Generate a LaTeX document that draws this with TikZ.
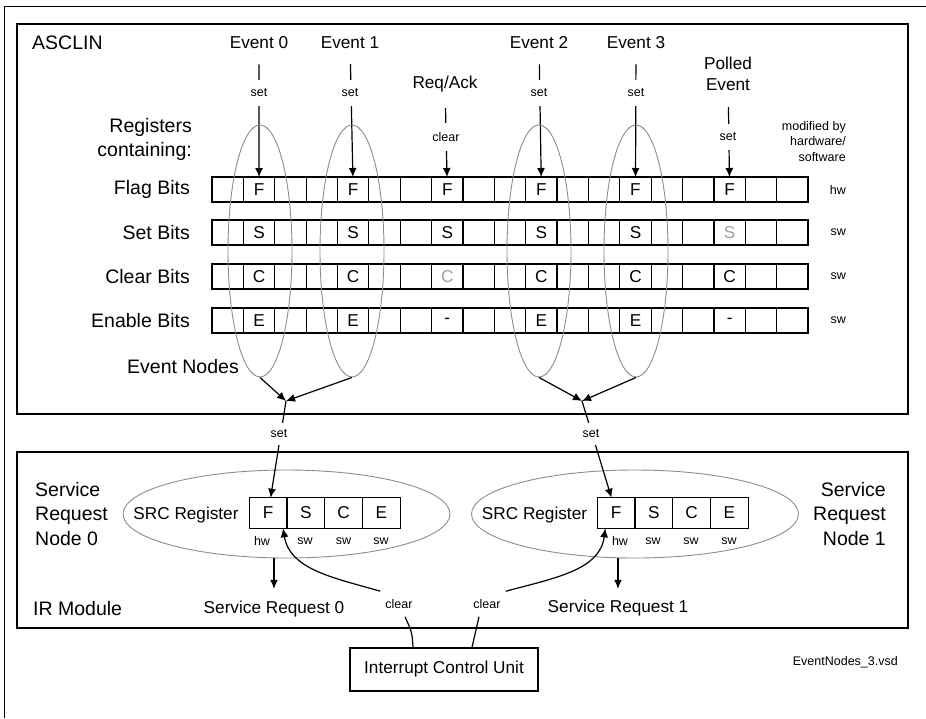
\documentclass[tikz,border=0pt]{standalone}
\usepackage{fontspec}
\setmainfont{Liberation Sans}
\usetikzlibrary{arrows.meta, shapes.geometric}
\definecolor{nodegray}{gray}{0.55}
\definecolor{fadedgray}{gray}{0.62}
\newcommand{\headfont}{\fontsize{19.5}{24.5}\selectfont}
\newcommand{\lblfont}{\fontsize{17.2}{21}\selectfont}
\newcommand{\tagfont}{\fontsize{12.5}{15.5}\selectfont}
\tikzset{
  frame/.style={line width=1.2pt},
  cell/.style={draw, line width=1.2pt, anchor=north west, inner sep=0pt, outer sep=0pt, minimum width=31.37pt, minimum height=25pt, font=\lblfont},
  bit/.style={inner sep=0pt, font=\lblfont},
  srccell/.style={cell, minimum width=37.7pt, minimum height=30.6pt},
  evnode/.style={ellipse, draw=nodegray, line width=0.9pt, inner sep=0pt, minimum width=64pt, minimum height=252pt},
  srcnode/.style={ellipse, draw=nodegray, line width=0.9pt, inner sep=0pt, minimum width=327pt, minimum height=88pt},
  box/.style={draw, line width=1.2pt, minimum width=188pt, minimum height=43pt, font=\lblfont},
  head/.style={inner sep=2pt, font=\headfont},
  lbl/.style={inner sep=2pt, font=\lblfont},
  tag/.style={inner sep=2pt, font=\tagfont},
  gap/.style={fill=white, inner xsep=2pt, inner ysep=9pt, font=\tagfont},
  cleartag/.style={inner xsep=5pt, inner ysep=8pt, font=\tagfont},
  arrow/.style={-{Latex[length=9pt,width=8pt]}, line width=1.2pt},
  wire/.style={line width=1.2pt}
}
\begin{document}
\begin{tikzpicture}[x=1pt, y=-1pt]
    \useasboundingbox (0,0) rectangle (926,718);
    \draw[line width=0.8pt] (4,718) -- (4,6) -- (926,6);
    \draw[frame] (17,24) rectangle (908,414);
    \draw[frame] (17,452) rectangle (908,628);

    \node[head, anchor=west] (asclin) at (30,43) {ASCLIN};
    \node[head, anchor=west] (irmod) at (31,609) {IR Module};
    \node[head, align=right, anchor=east] (regs) at (194,139.5) {Registers\\containing:};
    \node[head, anchor=east] (evnodes) at (241,367) {Event Nodes};
    \node[tag, align=right, anchor=east] (modby) at (848,141.5) {modified by\\hardware/\\software};

    \foreach \r/\y/\l/\n/\m in {flag/177/F/Flag Bits/hw, set/220/S/Set Bits/sw, clr/264/C/Clear Bits/sw, en/308/E/Enable Bits/sw} {
      \foreach \i in {0,...,18}
        \node[cell] (\r-\i) at ({212+31.37*\i},\y) {};
      \foreach \i in {1,4,10,13}
        \node[bit] (\r-\i-b) at (\r-\i) {\l};
      \node[head, anchor=east] (\r-lbl) at (192,\y+12.5) {\n};
      \node[tag, anchor=east] (\r-mod) at (848,\y+12.5) {\m};
    }
    \node[bit] (flag-7-b) at (flag-7) {F};
    \node[bit] (flag-16-b) at (flag-16) {F};
    \node[bit] (set-7-b) at (set-7) {S};
    \node[bit, text=fadedgray] (set-16-b) at (set-16) {S};
    \node[bit, text=fadedgray] (clr-7-b) at (clr-7) {C};
    \node[bit] (clr-16-b) at (clr-16) {C};
    \node[bit] (en-7-b) at (en-7) {-};
    \node[bit] (en-16-b) at (en-16) {-};

    \node[lbl] (ev0) at (259,43) {Event 0};
    \node[lbl] (ev1) at (350,43) {Event 1};
    \node[lbl] (reqack) at (445,84) {Req/Ack};
    \node[lbl] (ev2) at (539,43) {Event 2};
    \node[lbl] (ev3) at (636,43) {Event 3};
    \node[lbl, align=center] (polled) at (728,74) {Polled\\Event};

    \draw[arrow, shorten <=13pt] (ev0) -- (flag-1);
    \draw[arrow, shorten <=13pt] (ev1) -- (flag-4);
    \draw[arrow, shorten <=14pt] (reqack) -- (flag-7);
    \draw[arrow, shorten <=13pt] (ev2) -- (flag-10);
    \draw[arrow, shorten <=13pt] (ev3) -- (flag-13);
    \draw[arrow, shorten <=14pt] (polled) -- (flag-16);
    \node[gap] (set-ev0) at (259,93) {set};
    \node[gap] (set-ev1) at (350,93) {set};
    \node[gap] (clr-ack) at (446,137) {clear};
    \node[gap] (set-ev2) at (539,93) {set};
    \node[gap] (set-ev3) at (636,93) {set};
    \node[gap] (set-poll) at (728,137) {set};

    \node[evnode] (en0) at (260,251) {};
    \node[evnode] (en1) at (352,251) {};
    \node[evnode] (en2) at (539,251) {};
    \node[evnode] (en3) at (636,251) {};

    \coordinate (m0) at (286,401);
    \coordinate (m1) at (582,401);
    \draw[arrow] (en0.south) -- (m0);
    \draw[arrow] (en1.south) -- (m0);
    \draw[arrow] (en2.south) -- (m1);
    \draw[arrow] (en3.south) -- (m1);

    \node[srcnode] (srn0) at (286.5,514) {};
    \node[srcnode] (srn1) at (635,514) {};
    \foreach \j/\l in {0/F,1/S,2/C,3/E} {
      \node[srccell] (s0-\j) at ({249.3+37.7*\j},497.7) {\l};
      \node[srccell] (s1-\j) at ({597.3+37.75*\j},497.7) {\l};
    }
    \node[lbl] (srcreg0) at (186,515) {SRC Register};
    \node[lbl] (srcreg1) at (534.5,515) {SRC Register};
    \node[tag] (hw0) at (262,541) {hw};
    \node[tag] (sw0s) at (305,541) {sw};
    \node[tag] (sw0c) at (343.5,541) {sw};
    \node[tag] (sw0e) at (381,541) {sw};
    \node[tag] (hw1) at (620,541) {hw};
    \node[tag] (sw1s) at (653,541) {sw};
    \node[tag] (sw1c) at (691,541) {sw};
    \node[tag] (sw1e) at (729,541) {sw};

    \draw[arrow] (m0) -- (s0-0);
    \draw[arrow] (m1) -- (s1-0);
    \node[gap, inner ysep=7pt] (set-s0) at (279,434) {set};
    \node[gap, inner ysep=7pt] (set-s1) at (591,434) {set};

    \node[head, align=left, anchor=west] (srnlbl0) at (33,514) {Service\\Request\\Node 0};
    \node[head, align=right, anchor=east] (srnlbl1) at (888,514) {Service\\Request\\Node 1};

    \node[lbl] (sr0) at (274,609) {Service Request 0};
    \node[lbl] (sr1) at (618,608) {Service Request 1};
    \draw[arrow, shorten >=10pt] (srn0.south -| sr0) -- (sr0);
    \draw[arrow, shorten >=9pt] (srn1.south -| sr1) -- (sr1);

    \node[box] (icu) at (444,669.5) {Interrupt Control Unit};
    \node[cleartag] (clr0) at (399,604) {clear};
    \node[cleartag] (clr1) at (487,604) {clear};
    \draw[arrow] (clr0.north west) .. controls (335,578) and (290,570) .. ([xshift=-4pt]s0-0.south east);
    \draw[arrow] (clr1.north east) .. controls (555,578) and (600,570) .. ([xshift=8pt]s1-0.south west);
    \draw[wire] ([xshift=-31pt]icu.north) .. controls (412,632) .. ([xshift=6pt]clr0.south);
    \draw[wire] ([xshift=28pt]icu.north) .. controls (476,632) .. ([xshift=-8pt]clr1.south);

    \node[tag, anchor=east] (vsd) at (900,662) {EventNodes\_3.vsd};
\end{tikzpicture}
\end{document}
